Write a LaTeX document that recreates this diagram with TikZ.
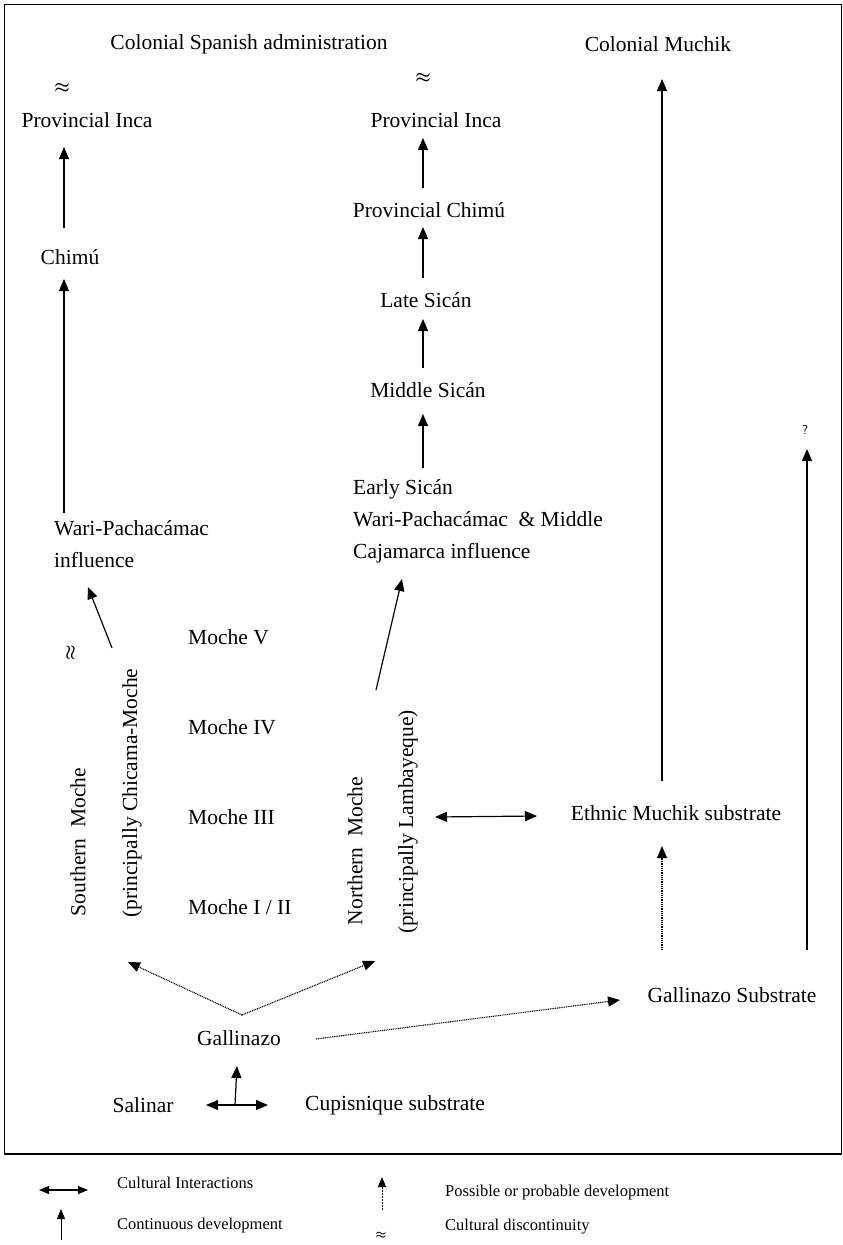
\documentclass[tikz,border=0pt]{standalone}
\usepackage{fontspec}
\setmainfont{Liberation Serif}
\usetikzlibrary{arrows.meta}
\begin{document}
\begin{tikzpicture}[x=1pt,y=-1pt,
  lbl/.style={font=\fontsize{21.5}{32}\selectfont, inner sep=0pt},
  leg/.style={font=\fontsize{16.5}{20}\selectfont, inner sep=0pt, anchor=west},
  apx/.style={font=\fontsize{17}{18}\selectfont\boldmath, inner sep=0pt},
  arr/.style={line width=1.2pt, -{Triangle[length=12pt,width=10pt]}},
  darr/.style={line width=1.1pt, dash pattern=on 1pt off 0.8pt, -{Triangle[length=12pt,width=10pt]}},
  dbl/.style={line width=1.2pt, {Triangle[length=12pt,width=10pt]}-{Triangle[length=12pt,width=10pt]}}
]
\useasboundingbox (0,0) rectangle (843,1245);
\draw[line width=1.2pt] (4.5,4.5) rectangle (841.5,1154);

% top texts
\node[lbl] (csa) at (249,44) {Colonial Spanish administration};
\node[lbl] (cm) at (658,44) {Colonial Muchik};

% left column
\node[apx] (ap1) at (62,88) {$\approx$};
\node[lbl] (pi1) at (87,120) {Provincial Inca};
\node[lbl] (chimu) at (70,257) {Chimú};
\node[lbl, anchor=west, align=left] (wari1) at (54,544) {Wari-Pachacámac\\influence};

% middle column
\node[apx] (ap2) at (423,78) {$\approx$};
\node[lbl] (pi2) at (436,120) {Provincial Inca};
\node[lbl] (pchimu) at (429,210) {Provincial Chimú};
\node[lbl] (late) at (426,300) {Late Sicán};
\node[lbl] (middle) at (428,390) {Middle Sicán};
\node[lbl, anchor=west, align=left] (early) at (353,521) {Early Sicán\\Wari-Pachacámac \ \& Middle\\Cajamarca influence};

% Moche phases
\node[lbl, anchor=west] (m5) at (188,637) {Moche V};
\node[lbl, anchor=west] (m4) at (188,727) {Moche IV};
\node[lbl, anchor=west] (m3) at (188,817) {Moche III};
\node[lbl, anchor=west] (m1) at (188,907) {Moche I / II};

\node[lbl, rotate=90] (south) at (78,842) {Southern \ Moche};
\node[lbl, rotate=90] (southp) at (132,793) {(principally Chicama-Moche};
\node[lbl, rotate=90] (north) at (355,851) {Northern \ Moche};
\node[lbl, rotate=90] (northp) at (408,822) {(principally Lambayeque)};
\node[apx, rotate=90] (ap3) at (71,653) {$\approx$};

% right side
\node[lbl] (ethnic) at (676,813) {Ethnic Muchik substrate};
\node[lbl] (gsub) at (732,995) {Gallinazo Substrate};
\node[font=\sffamily\fontsize{13}{14}\selectfont, inner sep=0pt] (q) at (805,430) {?};

% bottom
\node[lbl] (gall) at (239,1038) {Gallinazo};
\node[lbl] (salinar) at (143,1105) {Salinar};
\node[lbl, anchor=west] (cupis) at (305,1105) {Cupisnique substrate};

% coordinates for connector ends
\coordinate (c1a) at (64,228);   \coordinate (c1b) at (64,147);
\coordinate (c2a) at (64,513);   \coordinate (c2b) at (64,279);
\coordinate (c3a) at (112,648);  \coordinate (c3b) at (88,587);
\coordinate (c4a) at (376,690);  \coordinate (c4b) at (402,579);
\coordinate (c5a) at (423,468);  \coordinate (c5b) at (423,414);
\coordinate (c6a) at (423,368);  \coordinate (c6b) at (423,319);
\coordinate (c7a) at (423,278);  \coordinate (c7b) at (423,227);
\coordinate (c8a) at (423,188);  \coordinate (c8b) at (423,138);
\coordinate (c9a) at (662,781);  \coordinate (c9b) at (662,79);
\coordinate (c10a) at (435,817); \coordinate (c10b) at (537,816);
\coordinate (c11a) at (662,950); \coordinate (c11b) at (662,846);
\coordinate (c12a) at (807,950); \coordinate (c12b) at (807,449);
\coordinate (vtx) at (242,1015);
\coordinate (vl) at (128,962);   \coordinate (vr) at (375,961);
\coordinate (c14a) at (316,1039); \coordinate (c14b) at (620,1000);
\coordinate (sl) at (206,1105);  \coordinate (sr) at (268,1105);
\coordinate (sm) at (235,1105);  \coordinate (su) at (237,1066);

\draw[arr] (c1a) -- (c1b);
\draw[arr] (c2a) -- (c2b);
\draw[arr] (c3a) -- (c3b);
\draw[arr] (c4a) -- (c4b);
\draw[arr] (c5a) -- (c5b);
\draw[arr] (c6a) -- (c6b);
\draw[arr] (c7a) -- (c7b);
\draw[arr] (c8a) -- (c8b);
\draw[arr] (c9a) -- (c9b);
\draw[dbl] (c10a) -- (c10b);
\draw[darr] (c11a) -- (c11b);
\draw[arr] (c12a) -- (c12b);
\draw[darr] (vtx) -- (vl);
\draw[darr] (vtx) -- (vr);
\draw[darr] (c14a) -- (c14b);
\draw[dbl] (sl) -- (sr);
\draw[arr] (sm) -- (su);

% legend
\coordinate (l1a) at (39,1190); \coordinate (l1b) at (88,1190);
\coordinate (l2a) at (61,1240); \coordinate (l2b) at (61,1209);
\coordinate (l3a) at (382,1210); \coordinate (l3b) at (382,1177);
\draw[line width=1.2pt, {Triangle[length=10pt,width=8pt]}-{Triangle[length=10pt,width=8pt]}] (l1a) -- (l1b);
\draw[line width=1.0pt, -{Triangle[length=10pt,width=8pt]}] (l2a) -- (l2b);
\draw[line width=0.9pt, dash pattern=on 0.8pt off 0.7pt, -{Triangle[length=10pt,width=8pt]}] (l3a) -- (l3b);
\node[apx, font=\fontsize{13}{14}\selectfont\boldmath] (lap) at (381,1235) {$\approx$};
\node[leg] (t1) at (117,1183) {Cultural Interactions};
\node[leg] (t2) at (117,1226) {Continuous development};
\node[leg] (t3) at (445,1193) {Possible or probable development};
\node[leg] (t4) at (445,1227) {Cultural discontinuity};
\end{tikzpicture}
\end{document}
